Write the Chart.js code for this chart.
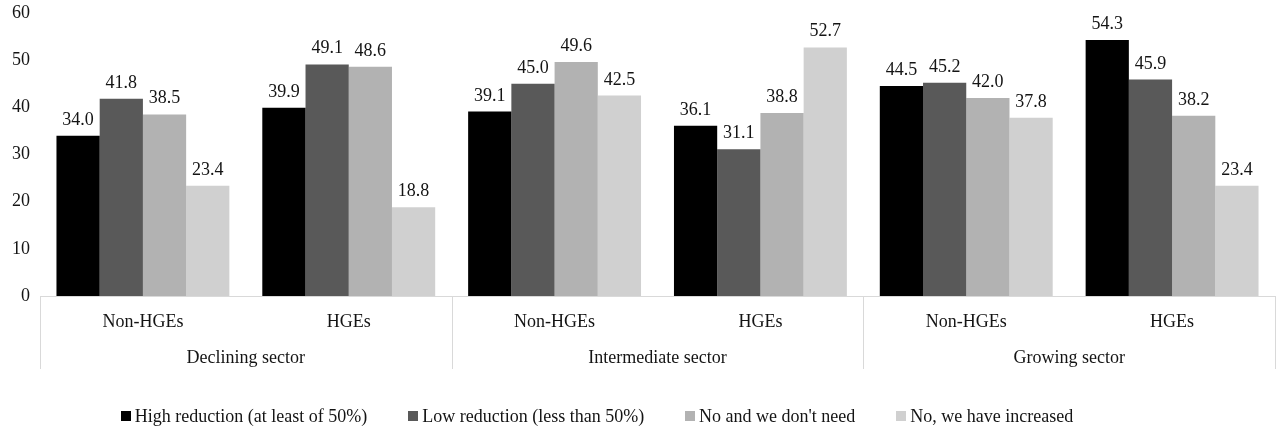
<!DOCTYPE html>
<html>
<head>
<meta charset="utf-8">
<script src="https://cdn.jsdelivr.net/npm/chart.js@4/dist/chart.umd.min.js"></script>
<style>
  html, body { margin: 0; padding: 0; background: #ffffff; }
  #wrap { width: 1276px; height: 428px; position: relative; }
</style>
</head>
<body>
<div id="wrap"><canvas id="chart"></canvas></div>
<script>
// Firm groups on the x axis, and the sector each pair belongs to
const categories = ['Non-HGEs', 'HGEs', 'Non-HGEs', 'HGEs', 'Non-HGEs', 'HGEs'];
const sectors = ['Declining sector', 'Intermediate sector', 'Growing sector'];

// Answer shares (%) per group
const seriesNames = [
  'High reduction (at least of 50%)',
  'Low reduction (less than 50%)',
  'No and we don\'t need',
  'No, we have increased'
];
const highReduction = [34.0, 39.9, 39.1, 36.1, 44.5, 54.3];
const lowReduction  = [41.8, 49.1, 45.0, 31.1, 45.2, 45.9];
const noNeed        = [38.5, 48.6, 49.6, 38.8, 42.0, 38.2];
const increased     = [23.4, 18.8, 42.5, 52.7, 37.8, 23.4];

// Value axis
const yMin = 0;
const yMax = 60;
const yStep = 10;

const seriesColors = ['#000000', '#595959', '#b2b2b2', '#d0d0d0'];
const FONT = '"Liberation Serif", "Times New Roman", serif';
const TEXT = '#141414';
const LINE = '#d9d9d9';

// Value labels above each bar
const valueLabels = {
  id: 'valueLabels',
  afterDatasetsDraw(chart) {
    const ctx = chart.ctx;
    ctx.save();
    ctx.font = '18px ' + FONT;
    ctx.fillStyle = TEXT;
    ctx.textAlign = 'center';
    ctx.textBaseline = 'alphabetic';
    chart.data.datasets.forEach((ds, i) => {
      chart.getDatasetMeta(i).data.forEach((bar, j) => {
        ctx.fillText(ds.data[j].toFixed(1), bar.x, bar.y - 11);
      });
    });
    ctx.restore();
  }
};

// Sector row under the category labels, with the vertical dividers
const sectorRow = {
  id: 'sectorRow',
  afterDraw(chart) {
    const ctx = chart.ctx;
    const x = chart.scales.x;
    const area = chart.chartArea;
    const step = x.getPixelForValue(1) - x.getPixelForValue(0);
    ctx.save();
    ctx.strokeStyle = LINE;
    ctx.lineWidth = 1;
    const bottom = area.bottom + 73;
    for (let s = 0; s <= sectors.length; s++) {
      const idx = Math.min(s * 2, categories.length - 1);
      let px = s * 2 < categories.length
        ? x.getPixelForValue(idx) - step / 2
        : x.getPixelForValue(idx) + step / 2;
      px = Math.round(px) + 0.5;
      ctx.beginPath();
      ctx.moveTo(px, area.bottom);
      ctx.lineTo(px, bottom);
      ctx.stroke();
    }
    ctx.font = '18px ' + FONT;
    ctx.fillStyle = TEXT;
    ctx.textAlign = 'center';
    ctx.textBaseline = 'alphabetic';
    sectors.forEach((name, s) => {
      const cx = (x.getPixelForValue(s * 2) + x.getPixelForValue(s * 2 + 1)) / 2;
      ctx.fillText(name, cx, area.bottom + 67);
    });
    ctx.restore();
  }
};

// Legend row along the bottom edge
const legendRow = {
  id: 'legendRow',
  afterDraw(chart) {
    const ctx = chart.ctx;
    ctx.save();
    ctx.font = '18px ' + FONT;
    ctx.textBaseline = 'alphabetic';
    ctx.textAlign = 'left';
    const box = 10, gapText = 4, gapItem = 41;
    const items = chart.data.datasets.map(ds => ({
      label: ds.label,
      color: ds.backgroundColor,
      w: box + gapText + ctx.measureText(ds.label).width
    }));
    const total = items.reduce((a, it) => a + it.w, 0) + gapItem * (items.length - 1);
    let cx = 597 - total / 2;
    const cy = 416;
    items.forEach(it => {
      ctx.fillStyle = it.color;
      ctx.fillRect(Math.round(cx), cy - 5, box, box);
      ctx.fillStyle = TEXT;
      ctx.fillText(it.label, cx + box + gapText, cy + 6);
      cx += it.w + gapItem;
    });
    ctx.restore();
  }
};

const dataSeries = [highReduction, lowReduction, noNeed, increased];

new Chart(document.getElementById('chart'), {
  type: 'bar',
  data: {
    labels: categories,
    datasets: dataSeries.map((values, i) => ({
      label: seriesNames[i],
      data: values,
      backgroundColor: seriesColors[i],
      borderWidth: 0,
      categoryPercentage: 0.84,
      barPercentage: 1.0
    }))
  },
  options: {
    responsive: true,
    maintainAspectRatio: false,
    animation: false,
    devicePixelRatio: 1,
    layout: { padding: { top: 13, right: 1, bottom: 0, left: 0 } },
    plugins: {
      legend: { display: false },
      tooltip: { enabled: false }
    },
    scales: {
      x: {
        grid: { display: false, drawTicks: false },
        border: { display: true, color: LINE, width: 1 },
        ticks: {
          color: TEXT,
          font: { family: FONT, size: 18 },
          padding: 15,
          maxRotation: 0,
          autoSkip: false
        },
        afterFit(scale) { scale.height = 132; }
      },
      y: {
        min: yMin,
        max: yMax,
        grid: { display: false, drawTicks: false },
        border: { display: false },
        ticks: {
          stepSize: yStep,
          color: TEXT,
          font: { family: FONT, size: 18 },
          padding: 10
        },
        afterFit(scale) {
          scale.width = 40;
          scale.paddingTop = 0;
          scale.paddingBottom = 0;
        }
      }
    }
  },
  plugins: [valueLabels, sectorRow, legendRow]
});
</script>
</body>
</html>
